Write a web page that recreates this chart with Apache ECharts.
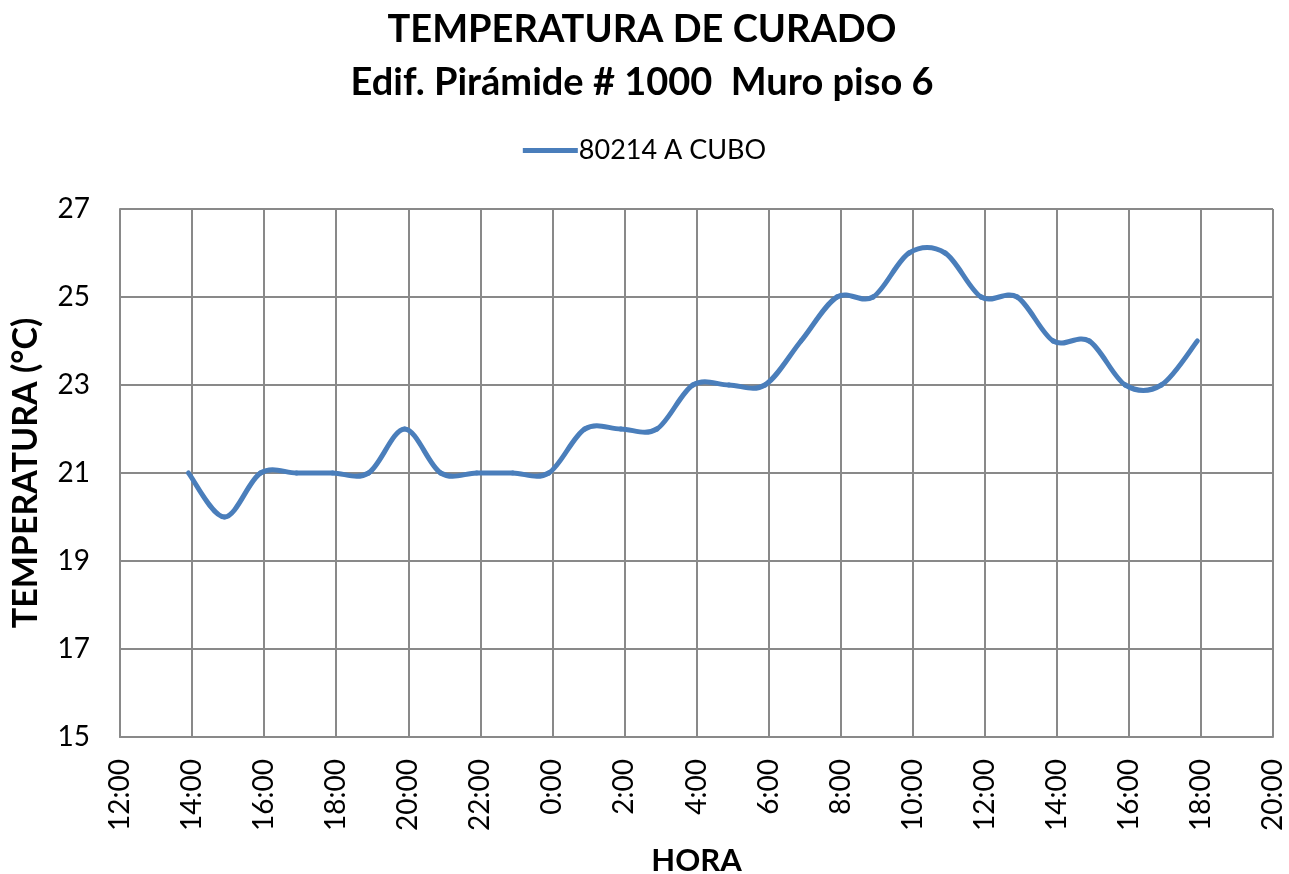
<!DOCTYPE html>
<html>
<head>
<meta charset="utf-8">
<script src="https://cdn.jsdelivr.net/npm/echarts@6/dist/echarts.min.js"></script>
<style>
  html, body { margin: 0; padding: 0; background: #fff; }
  #main { width: 1289px; height: 874px; }
</style>
</head>
<body>
<div id="main"></div>
<script>
// horas desde las 0:00 del primer día (lecturas cada hora, ~13:55 a ~17:55 del día siguiente)
const horas = [13.9, 14.9, 15.9, 16.9, 17.9, 18.9, 19.9, 20.9, 21.9, 22.9,
               23.9, 24.9, 25.9, 26.9, 27.9, 28.9, 29.9, 30.9, 31.9, 32.9,
               33.9, 34.9, 35.9, 36.9, 37.9, 38.9, 39.9, 40.9, 41.9];
const temperaturas = [21, 20, 21, 21, 21, 21, 22, 21, 21, 21,
                      21, 22, 22, 22, 23, 23, 23, 24, 25, 25,
                      26, 26, 25, 25, 24, 24, 23, 23, 24];
const serieNombre = '80214 A CUBO';
const yTicks = [15, 17, 19, 21, 23, 25, 27];

const azul = '#4a7ebb';
const gris = '#898989';
const fuente = 'Lato, "Open Sans", sans-serif';
const chart = echarts.init(document.getElementById('main'));

// curva suavizada tipo Excel: cada tramo i -> i+1 es una Bézier cúbica
// con puntos de control tomados de los vecinos (Catmull-Rom, tensión 1/6)
function renderTramo(params, api) {
  const i = params.dataIndex;
  const n = horas.length;
  if (i >= n - 1) return null;
  const p = k => api.coord([horas[Math.max(0, Math.min(n - 1, k))], temperaturas[Math.max(0, Math.min(n - 1, k))]]);
  const p0 = p(i - 1), p1 = p(i), p2 = p(i + 1), p3 = p(i + 2);
  return {
    type: 'bezierCurve',
    shape: {
      x1: p1[0], y1: p1[1],
      x2: p2[0], y2: p2[1],
      cpx1: p1[0] + (p2[0] - p0[0]) / 6,
      cpy1: p1[1] + (p2[1] - p0[1]) / 6,
      cpx2: p2[0] - (p3[0] - p1[0]) / 6,
      cpy2: p2[1] - (p3[1] - p1[1]) / 6
    },
    style: { stroke: azul, lineWidth: 5, fill: null, lineCap: 'round' }
  };
}

const option = {
  animation: false,
  backgroundColor: '#fff',
  textStyle: { fontFamily: fuente },
  title: {
    text: 'TEMPERATURA DE CURADO\nEdif. Pirámide # 1000  Muro piso 6',
    left: 637,
    textAlign: 'center',
    top: -2,
    textStyle: { fontSize: 38, fontWeight: 'bold', color: '#000', lineHeight: 53, fontFamily: fuente }
  },
  legend: {
    top: 132,
    left: 'center',
    itemWidth: 55,
    itemHeight: 5,
    itemGap: 4,
    textStyle: { fontSize: 27, color: '#000', fontFamily: fuente, padding: [0, 0, 0, -4] },
    data: [{ name: serieNombre, icon: 'rect', itemStyle: { color: azul } }]
  },
  grid: { left: 120, right: 16, top: 209, bottom: 137, containLabel: false, outerBoundsMode: 'none' },
  xAxis: {
    type: 'value',
    min: 12,
    max: 44,
    interval: 2,
    name: 'HORA',
    nameLocation: 'middle',
    nameGap: 108,
    nameTextStyle: { fontSize: 31, fontWeight: 'bold', color: '#000', fontFamily: fuente },
    axisLine: { show: true, lineStyle: { color: gris, width: 2 } },
    axisTick: { show: false },
    axisLabel: {
      rotate: 90,
      margin: 22,
      fontSize: 28,
      color: '#000',
      fontFamily: fuente,
      formatter: v => (v % 24) + ':00'
    },
    splitLine: { show: true, lineStyle: { color: gris, width: 2 } }
  },
  yAxis: {
    type: 'value',
    min: 15,
    max: 27,
    interval: 2,
    name: 'TEMPERATURA (°C)',
    nameLocation: 'middle',
    nameGap: 77,
    nameRotate: 90,
    nameTextStyle: { fontSize: 34, fontWeight: 'bold', color: '#000', fontFamily: fuente },
    axisLine: { show: true, lineStyle: { color: gris, width: 2 } },
    axisTick: { show: false },
    axisLabel: {
      margin: 30,
      fontSize: 28,
      color: '#000',
      fontFamily: fuente,
      formatter: v => (yTicks.includes(v) ? String(v) : '')
    },
    splitLine: { show: true, lineStyle: { color: gris, width: 2 } }
  },
  series: [{
    name: serieNombre,
    type: 'custom',
    renderItem: renderTramo,
    itemStyle: { color: azul },
    encode: { x: 0, y: 1 },
    data: horas.map((h, i) => [h, temperaturas[i]])
  }]
};

chart.setOption(option);
</script>
</body>
</html>
